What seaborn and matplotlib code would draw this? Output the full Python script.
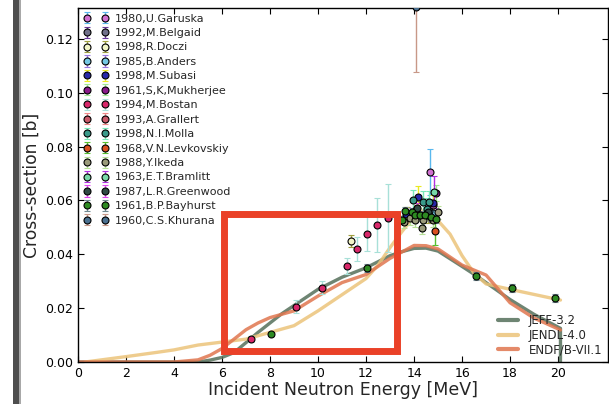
import numpy as np
import pandas as pd
import matplotlib
matplotlib.use("Agg")
import matplotlib.pyplot as plt
from matplotlib.patches import Rectangle
from matplotlib.lines import Line2D
import seaborn as sns

# ---- evaluated cross-section libraries ----
jeff_e = [0.0, 5.0, 5.5, 6.0, 6.5, 7.0, 7.5, 8.0, 8.5, 9.0, 10.0, 11.0, 12.0, 13.0,
          13.5, 14.0, 14.5, 15.0, 16.0, 16.6, 17.0, 18.0, 19.0, 20.1, 20.1]
jeff_xs = [0.0, 0.0, 0.0007, 0.0017, 0.0035, 0.0072, 0.011, 0.0145, 0.018, 0.021, 0.027,
           0.0315, 0.035, 0.0395, 0.041, 0.0422, 0.0423, 0.0412, 0.0355, 0.032, 0.0295,
           0.0232, 0.0177, 0.0125, 0.0]

jendl_e = [0.3, 2.0, 3.3, 4.0, 5.0, 6.0, 7.0, 8.0, 9.0, 10.0, 11.0, 12.0, 12.5, 13.0,
           13.5, 14.0, 14.5, 15.0, 15.5, 16.0, 16.5, 17.0, 18.0, 20.1]
jendl_xs = [0.0, 0.002, 0.0036, 0.0045, 0.0063, 0.0074, 0.0085, 0.011, 0.0135, 0.019,
            0.025, 0.031, 0.036, 0.0425, 0.0485, 0.054, 0.057, 0.0525, 0.0475, 0.0395,
            0.033, 0.029, 0.027, 0.023]

endf_e = [0.0, 4.0, 5.0, 5.5, 6.0, 6.5, 7.0, 7.5, 8.0, 9.0, 10.0, 11.0, 12.0, 13.0,
          14.0, 14.5, 15.0, 16.0, 17.0, 18.0, 19.0, 20.1]
endf_xs = [0.0, 0.0, 0.0008, 0.0025, 0.005, 0.0085, 0.012, 0.0145, 0.0165, 0.019, 0.0245,
           0.0295, 0.0325, 0.0385, 0.0433, 0.0432, 0.042, 0.036, 0.0323, 0.022, 0.0163,
           0.0119]

library_names = ["JEFF-3.2", "JENDL-4.0", "ENDF/B-VII.1"]
library_colors = ["#55705a", "#ecc47a", "#e0764f"]

# ---- measurements: label, marker colour, error-bar colour, energies, values, errors ----
exp_labels = ["1980,U.Garuska", "1992,M.Belgaid", "1998,R.Doczi", "1985,B.Anders",
              "1998,M.Subasi", "1961,S,K,Mukherjee", "1994,M.Bostan", "1993,A.Grallert",
              "1998,N.I.Molla", "1968,V.N.Levkovskiy", "1988,Y.Ikeda", "1963,E.T.Bramlitt",
              "1987,L.R.Greenwood", "1961,B.P.Bayhurst", "1960,C.S.Khurana"]
marker_colors = ["#d070d0", "#70708a", "#f2f5c8", "#74c8e4", "#2828a8", "#8a1a8a",
                 "#d8286a", "#c85868", "#3a9a8a", "#d85020", "#9a9a7a", "#78d8a8",
                 "#2f4a44", "#2e8a22", "#4a7090"]
err_colors = ["#5ab8ee", "#6a3a9a", "#a0a040", "#9a78e0", "#eaea20", "#a0e890",
              "#a8e0d8", "#f08888", "#78e8b8", "#58c030", "#b8e098", "#b030e0",
              "#e048f0", "#708890", "#c89888"]

exp_e = [
    [14.68, 14.78],
    [13.72, 14.70],
    [11.37, 14.58],
    [14.80, 14.62],
    [13.67, 14.18, 14.80],
    [14.90],
    [7.19, 9.08, 10.15, 11.2, 11.64, 12.03, 12.47, 12.9],
    [14.10],
    [13.96, 14.37, 14.63, 14.52],
    [14.88],
    [13.60, 13.83, 14.04, 14.37, 14.32, 14.80, 15.0],
    [14.82],
    [14.60, 14.12],
    [8.03, 12.03, 13.50, 13.62, 13.90, 14.04, 14.25, 14.45, 14.70, 14.92, 16.6, 18.07, 19.87],
    [14.07],
]
exp_xs = [
    [0.0705, 0.0585],
    [0.0555, 0.0540],
    [0.0450, 0.0545],
    [0.0555, 0.0562],
    [0.0550, 0.0612, 0.0590],
    [0.0628],
    [0.0085, 0.0206, 0.0276, 0.0356, 0.0420, 0.0476, 0.0510, 0.0535],
    [0.0565],
    [0.0600, 0.0595, 0.0595, 0.0570],
    [0.0488],
    [0.0521, 0.0534, 0.0527, 0.0527, 0.0499, 0.0527, 0.0556],
    [0.0632],
    [0.0558, 0.0572],
    [0.0103, 0.0348, 0.0527, 0.0560, 0.0556, 0.0546, 0.0546, 0.0546, 0.0538, 0.0532,
     0.0320, 0.0275, 0.0237],
    [0.1318],
]
exp_err = [
    [0.0085, 0.004],
    [0.002, 0.002],
    [0.0022, 0.003],
    [0.003, 0.002],
    [0.0025, 0.004, 0.003],
    [0.003],
    [0.0012, 0.0025, 0.0025, 0.003, 0.0046, 0.0065, 0.010, 0.0125],
    [0.002],
    [0.004, 0.004, 0.004, 0.004],
    [0.0055],
    [0.0025, 0.0025, 0.0025, 0.0025, 0.0025, 0.0025, 0.0025],
    [0.006],
    [0.002, 0.002],
    [0.0008, 0.0015, 0.0015, 0.0015, 0.0015, 0.0015, 0.0015, 0.0015, 0.0015, 0.0015,
     0.0015, 0.0015, 0.0015],
    [0.024],
]

sns.set_style("ticks")
plt.rcParams["font.family"] = ["DejaVu Sans"]

fig = plt.figure(figsize=(6.09, 4.04), dpi=100)
ax = fig.add_axes([78 / 609, 42 / 404, 530 / 609, 354 / 404])

# evaluated data curves
curves = pd.concat([
    pd.DataFrame({"E": jeff_e, "xs": jeff_xs, "lib": library_names[0]}),
    pd.DataFrame({"E": jendl_e, "xs": jendl_xs, "lib": library_names[1]}),
    pd.DataFrame({"E": endf_e, "xs": endf_xs, "lib": library_names[2]}),
])
sns.lineplot(data=curves, x="E", y="xs", hue="lib", palette=library_colors,
             hue_order=library_names, estimator=None, sort=False, lw=2.4, alpha=0.85,
             legend=False, ax=ax, zorder=2)

# measured points
exp_handles = []
for lab, mc, ec, e, v, s in zip(exp_labels, marker_colors, err_colors, exp_e, exp_xs, exp_err):
    h = ax.errorbar(e, v, yerr=s, fmt="o", ms=5, mfc=mc, mec="black", mew=0.8,
                    ecolor=ec, elinewidth=1.0, capsize=2.5, capthick=1.0, zorder=3,
                    label=lab)
    exp_handles.append(h)

# highlighted region
ax.add_patch(Rectangle((6.08, 0.0041), 13.27 - 6.08, 0.0550 - 0.0041, fill=False,
                       edgecolor="#ea4128", lw=5.0, zorder=5, joinstyle="miter"))

ax.set_xlim(0, 22.08)
ax.set_ylim(0, 0.1315)
ax.set_xticks(np.arange(0, 21, 2))
ax.set_yticks(np.arange(0, 0.121, 0.02))
ax.yaxis.set_major_formatter(matplotlib.ticker.FormatStrFormatter("%.2f"))
ax.tick_params(direction="in", top=True, right=True, length=4, width=0.8, labelsize=9,
               colors="black")
for sp in ax.spines.values():
    sp.set_linewidth(1.0)
    sp.set_color("black")

ax.set_xlabel("Incident Neutron Energy [MeV]", fontsize=12.5)
ax.set_ylabel("Cross-section [b]", fontsize=12.3)
ax.xaxis.set_label_coords(0.5, -0.053)
ax.yaxis.set_label_coords(-0.071, 0.5)

leg1 = ax.legend(handles=exp_handles, labels=exp_labels, loc="upper left", numpoints=2,
                 frameon=False, fontsize=8, labelspacing=0.4, handlelength=2.2,
                 handletextpad=0.6, borderaxespad=0.2, borderpad=0.3)
ax.add_artist(leg1)

lib_handles = [Line2D([0], [0], color=c, lw=3, alpha=0.85) for c in library_colors]
ax.legend(handles=lib_handles, labels=library_names, loc="lower right", frameon=False,
          fontsize=8.5, labelspacing=0.12, handlelength=1.7, handletextpad=0.9,
          borderaxespad=0.1, borderpad=0.4)

# dark strip at the left edge
fig.patches.append(Rectangle((13 / 609, 0), 6 / 609, 1, transform=fig.transFigure,
                             facecolor="#4e4e4e", edgecolor="none"))
fig.patches.append(Rectangle((19 / 609, 0), 2 / 609, 1, transform=fig.transFigure,
                             facecolor="#a8a8a8", edgecolor="none"))

fig.savefig("out.png", dpi=100)
